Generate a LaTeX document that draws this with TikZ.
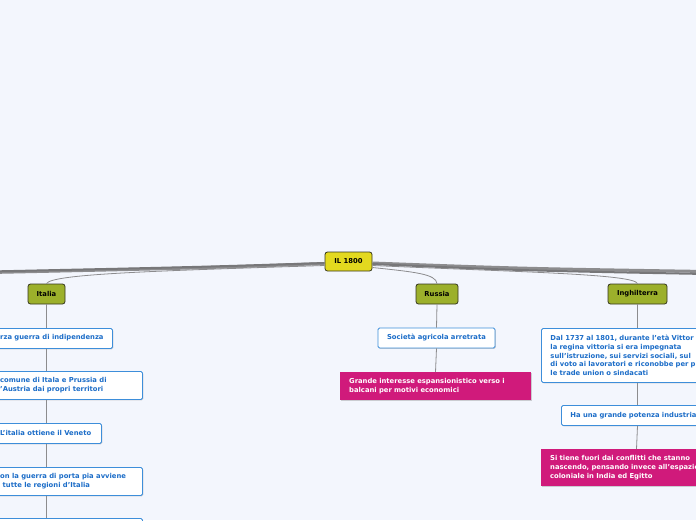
\documentclass[tikz,border=0pt]{standalone}
\usepackage{fontspec}
\setmainfont{DejaVu Sans}
\usetikzlibrary{shadows,calc}
\definecolor{bgc}{HTML}{F3F6FD}
\definecolor{rootc}{HTML}{E3D91F}
\definecolor{topc}{HTML}{9CB02B}
\definecolor{darkb}{HTML}{35361E}
\definecolor{subb}{HTML}{3D8EDA}
\definecolor{subt}{HTML}{1C6DC8}
\definecolor{notec}{HTML}{D01A7B}
\definecolor{linec}{HTML}{8C8C8E}
\tikzset{
  txtfont/.style={font=\bfseries\fontsize{6.8}{8.6}\selectfont},
  rootbox/.style={txtfont, fill=rootc, draw=darkb, line width=0.8pt, rounded corners=2.5pt, inner sep=0pt, text=black},
  topicbox/.style={txtfont, fill=topc, draw=darkb, line width=0.8pt, rounded corners=2.5pt, inner sep=0pt, text=black},
  subbox/.style={txtfont, fill=white, draw=subb, line width=0.9pt, rounded corners=1.5pt, text=subt, inner sep=0pt,
     drop shadow={shadow xshift=0.8pt, shadow yshift=-0.8pt, opacity=0.35}},
  notebox/.style={txtfont, fill=notec, text=white, inner sep=0pt,
     drop shadow={shadow xshift=0.8pt, shadow yshift=-0.8pt, opacity=0.35}},
  blocktxt/.style={align=left, inner xsep=9pt, inner ysep=0pt, anchor=north west, text width=300pt},
  lbl/.style={txtfont, inner sep=0pt, anchor=west, align=left},
  conn/.style={draw=linec, line width=0.8pt},
  mainline/.style={draw=linec, line width=3pt},
  mainline2/.style={draw=linec!85!black, line width=2pt},
}
\begin{document}
\begin{tikzpicture}[x=1pt,y=-1pt]
\fill[bgc] (0,0) rectangle (696,520);
\useasboundingbox (0,0) rectangle (696,520);
\clip (0,0) rectangle (696,520);

% root and topics
\node[rootbox, minimum width=47pt, minimum height=19pt] (root) at (348.5,261.5) {IL 1800};
\coordinate (lend1) at (-10,272.5);
\coordinate (lend2) at (-10,271.5);
\coordinate (rend1) at (706,271.5);
\coordinate (rend2) at (706,274);

\path[mainline] ($(root.west)+(0,2)$) .. controls (200,268) .. (lend1);
\path[mainline2] ($(root.west)+(0,1.5)$) .. controls (200,267) .. (lend2);
\path[mainline] ($(root.east)+(0,1.5)$) .. controls (520,268.5) .. (rend1);
\path[mainline2] ($(root.east)+(0,2.5)$) .. controls (520,270.5) .. (rend2);

\node[topicbox, minimum width=37pt, minimum height=20pt] (italia) at (46.5,294) {Italia};
\node[topicbox, minimum width=42pt, minimum height=20pt] (russia) at (437,294) {Russia};
\node[topicbox, minimum width=59pt, minimum height=20pt] (ingh) at (637.5,294) {Inghilterra};

\draw[conn] ($(root.west)+(0,4)$) .. controls (150,271) and (52,274) .. (italia.north);
\draw[conn] ($(root.east)+(0,6)$) .. controls (415,272) and (436,274) .. (russia.north);
\draw[conn] ($(root.east)+(0,4)$) .. controls (520,272) and (634,274) .. (ingh.north);

% Italia branch (boxes run past the left edge)
\node[subbox, minimum width=212pt, minimum height=20pt, anchor=north west] (i1) at (-100,328) {};
\node[lbl, text=subt] (i1t) at (0,338) {rza guerra di indipendenza};
\node[subbox, minimum width=242pt, minimum height=28pt, anchor=north west] (i2) at (-100,371) {};
\node[lbl, text=subt] (i2t) at (0,385.3) {comune di Itala e Prussia di\\'Austria dai propri territori};
\node[subbox, minimum width=201pt, minimum height=20pt, anchor=north west] (i3) at (-100,423) {};
\node[lbl, text=subt] (i3t) at (0,433) {L'italia ottiene il Veneto};
\node[subbox, minimum width=242pt, minimum height=28pt, anchor=north west] (i4) at (-100,467) {};
\node[lbl, text=subt] (i4t) at (0,481.3) {on la guerra di porta pia avviene\\\hspace*{2.5pt}tutte le regioni d'Italia};
\node[subbox, minimum width=242pt, minimum height=40pt, anchor=north west] (i5) at (-100,518) {};

\draw[conn] (italia.south) -- (italia.south |- i1.north);
\draw[conn] (italia.south |- i1.south) -- (italia.south |- i2.north);
\draw[conn] (italia.south |- i2.south) -- (italia.south |- i3.north);
\draw[conn] (italia.south |- i3.south) -- (italia.south |- i4.north);
\draw[conn] (italia.south |- i4.south) -- (italia.south |- i5.north);

% Russia branch
\node[subbox, minimum width=117pt, minimum height=20pt] (soc) at (436.5,338) {Società agricola arretrata};
\node[notebox, blocktxt, text width=173pt, minimum height=28pt] (grande) at (340,372)
  {Grande interesse espansionistico verso i\\balcani per motivi economici};
\draw[conn] (russia.south) -- (soc.north);
\draw[conn] (soc.south) -- ($(russia.south |- grande.north)+(-1.5,0)$);

% Inghilterra branch (boxes run past the right edge)
\node[subbox, blocktxt, minimum height=54pt] (g1) at (541,328)
  {Dal 1737 al 1801, durante l'età Vittor\\la regina vittoria si era impegnata\\sull'istruzione, sui servizi sociali, sul\\di voto ai lavoratori e riconobbe per p\\le trade union o sindacati};
\node[subbox, blocktxt, minimum height=20pt] (g2) at (561,405) {Ha una grande potenza industria};
\node[notebox, blocktxt, minimum height=37pt] (g3) at (541,449)
  {Si tiene fuori dai conflitti che stanno\\nascendo, pensando invece all'espazio\\coloniale in India ed Egitto};
\draw[conn] (ingh.south) -- (ingh.south |- g1.north);
\draw[conn] (ingh.south |- g1.south) -- (ingh.south |- g2.north);
\draw[conn] (ingh.south |- g2.south) -- ($(ingh.south |- g3.north)+(-1,0)$);
\end{tikzpicture}
\end{document}
